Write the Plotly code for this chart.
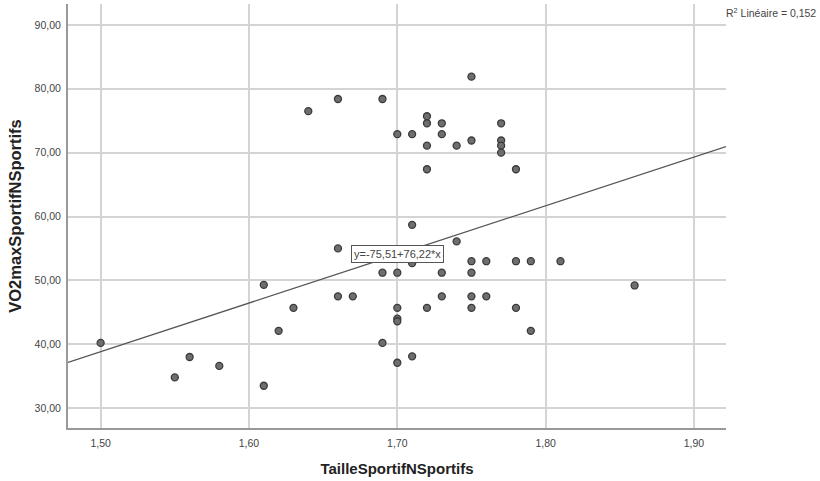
import numpy as np
import plotly.graph_objects as go

# Data
taille = [1.50, 1.55, 1.56, 1.58, 1.61, 1.61, 1.62, 1.63, 1.64, 1.66, 1.66, 1.66, 1.67,
          1.69, 1.69, 1.69, 1.70, 1.70, 1.70, 1.70, 1.70, 1.70, 1.71, 1.71, 1.71, 1.71,
          1.72, 1.72, 1.72, 1.72, 1.72, 1.73, 1.73, 1.73, 1.73, 1.74, 1.74,
          1.75, 1.75, 1.75, 1.75, 1.75, 1.75, 1.76, 1.76, 1.77, 1.77, 1.77, 1.77,
          1.78, 1.78, 1.78, 1.79, 1.79, 1.81, 1.86]
vo2max = [40.2, 34.8, 38.0, 36.6, 33.5, 49.3, 42.1, 45.7, 76.5, 78.4, 55.0, 47.5, 47.5,
          78.4, 51.2, 40.2, 72.9, 51.2, 45.7, 44.0, 43.6, 37.1, 72.9, 58.7, 52.7, 38.1,
          75.7, 74.6, 71.1, 67.4, 45.7, 74.6, 72.9, 51.2, 47.5, 71.1, 56.1,
          81.9, 71.9, 53.0, 51.2, 47.5, 45.7, 53.0, 47.5, 74.6, 71.9, 71.1, 70.0,
          67.4, 53.0, 45.7, 53.0, 42.1, 53.0, 49.2]

intercept = -75.51
slope = 76.22
r2 = 0.152

x_ticks = [1.50, 1.60, 1.70, 1.80, 1.90]
y_ticks = [30, 40, 50, 60, 70, 80, 90]

x_range = [1.478, 1.9216]
y_range = [26.88, 93.28]

fig = go.Figure()

line_x = np.array(x_range)
line_y = intercept + slope * line_x
fig.add_trace(go.Scatter(x=line_x, y=line_y, mode="lines",
                         line=dict(color="#555555", width=1.3),
                         hoverinfo="skip", showlegend=False))

fig.add_trace(go.Scatter(x=taille, y=vo2max, mode="markers",
                         marker=dict(size=7, color="#6e6e6e",
                                     line=dict(color="#3a3a3a", width=1.3)),
                         showlegend=False))

lbl_x = 1.70
fig.add_annotation(x=lbl_x, y=intercept + slope * lbl_x, xref="x", yref="y",
                   text="y=-75,51+76,22*x", showarrow=False,
                   font=dict(family="Liberation Sans, Arial", size=11, color="#444444"),
                   bgcolor="white", bordercolor="#555555", borderwidth=1, borderpad=2)

fig.add_annotation(x=1.0, y=1.0, xref="paper", yref="paper", xanchor="left", yanchor="top",
                   xshift=-2, yshift=0,
                   text="R<sup>2</sup> Linéaire = 0,152", showarrow=False,
                   font=dict(family="Liberation Sans, Arial", size=10.5, color="#444444"))

fig.update_layout(
    width=820, height=481,
    margin=dict(l=68, r=94, t=4, b=53),
    paper_bgcolor="white", plot_bgcolor="white",
    separators=", ",
    font=dict(family="Liberation Sans, Arial", color="#444444"),
    xaxis=dict(range=x_range, tickvals=x_ticks, tickformat=".2f",
               showgrid=True, gridcolor="#d4d4d4", gridwidth=1.5,
               showline=True, linecolor="#999999", linewidth=2, mirror=False,
               zeroline=False, ticks="", ticklabelstandoff=4,
               tickfont=dict(size=10.5, color="#444444"),
               title=dict(text="<b>TailleSportifNSportifs</b>", standoff=16,
                          font=dict(size=15, color="#222222"))),
    yaxis=dict(range=y_range, tickvals=y_ticks, tickformat=".2f",
               showgrid=True, gridcolor="#d4d4d4", gridwidth=1.5,
               showline=True, linecolor="#999999", linewidth=2, mirror=False,
               zeroline=False, ticks="", ticklabelstandoff=3,
               tickfont=dict(size=10.5, color="#444444"),
               title=dict(text="<b>VO2maxSportifNSportifs</b>", standoff=9,
                          font=dict(size=16.5, color="#222222"))),
)

fig.write_html("out.html", config={"displayModeBar": False},
               post_script="document.body.style.margin='0';document.body.style.overflow='hidden';")
